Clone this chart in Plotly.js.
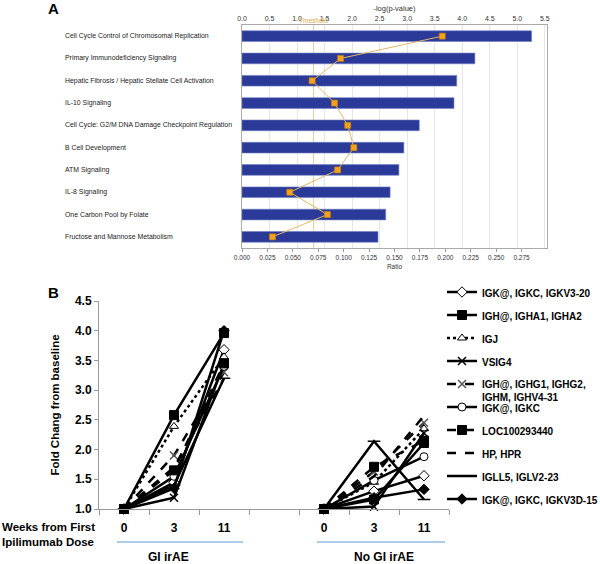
<!DOCTYPE html>
<html>
<head>
<meta charset="utf-8">
<script src="https://cdn.plot.ly/plotly-3.0.1.min.js"></script>
<style>html,body{margin:0;padding:0;background:#fff;overflow:hidden;width:600px;height:564px;}#chart{width:600px;height:564px;}</style>
</head>
<body>
<div id="chart"></div>
<script>
// ---------- Panel A data ----------
const pathways = [
  'Cell Cycle Control of Chromosomal Replication',
  'Primary Immunodeficiency Signaling',
  'Hepatic Fibrosis / Hepatic Stellate Cell Activation',
  'IL-10 Signaling',
  'Cell Cycle: G2/M DNA Damage Checkpoint Regulation',
  'B Cell Development',
  'ATM Signaling',
  'IL-8 Signaling',
  'One Carbon Pool by Folate',
  'Fructose and Mannose Metabolism'
];
const negLogP = [5.26, 4.23, 3.90, 3.85, 3.22, 2.94, 2.85, 2.69, 2.61, 2.47];
const ratio = [0.197, 0.097, 0.069, 0.091, 0.104, 0.110, 0.094, 0.047, 0.084, 0.030];
const thresholdNegLogP = 1.3;
const negLogPTicks = [0, 0.5, 1, 1.5, 2, 2.5, 3, 3.5, 4, 4.5, 5, 5.5];
const ratioTicks = [0, 0.025, 0.05, 0.075, 0.1, 0.125, 0.15, 0.175, 0.2, 0.225, 0.25, 0.275];

// ---------- Panel B data ----------
const genes = [
  'IGK@, IGKC, IGKV3-20',
  'IGH@, IGHA1, IGHA2',
  'IGJ',
  'VSIG4',
  'IGH@, IGHG1, IGHG2,<br>IGHM, IGHV4-31',
  'IGK@, IGKC',
  'LOC100293440',
  'HP, HPR',
  'IGLL5, IGLV2-23',
  'IGK@, IGKC, IGKV3D-15'
];
const weekLabels = ['0', '3', '11'];
const groupLabels = ['GI irAE', 'No GI irAE'];
const giWeek0    = [1, 1, 1, 1, 1, 1, 1, 1, 1, 1];
const giWeek3    = [1.45, 2.58, 2.39, 1.19, 1.90, 1.55, 1.65, 1.70, 1.40, 1.35];
const giWeek11   = [3.68, 3.96, 3.56, 3.45, 3.30, 3.40, 3.45, 3.20, 3.20, 4.00];
const noGiWeek0  = [1, 1, 1, 1, 1, 1, 1, 1, 1, 1];
const noGiWeek3  = [1.30, 1.16, 1.45, 1.04, 1.63, 1.48, 1.71, 1.55, 2.14, 1.19];
const noGiWeek11 = [1.56, 2.11, 2.35, 2.28, 2.45, 1.88, 2.15, 2.57, 1.16, 1.33];
const yTicksB = [1, 1.5, 2, 2.5, 3, 3.5, 4, 4.5];

// ---------- styles ----------
const dashes  = ['solid', 'solid', 'dot', 'solid', 'dash', 'solid', 'dash', 'dash', 'solid', 'solid'];
const symbols = ['diamond', 'square', 'triangle-up', 'x-thin-open', 'x-thin-open', 'circle', 'square', 'circle', 'line-ew-open', 'diamond'];
const mFill   = ['white', 'black', 'white', 'black', '#555', 'white', 'black', 'black', 'black', 'black'];
const mSize   = [8, 9, 8, 8, 8, 8, 9, 0, 9, 8];
const modes   = ['lines+markers','lines+markers','lines+markers','lines+markers','lines+markers','lines+markers','lines+markers','lines','lines+markers','lines+markers'];

const fontA = 'Liberation Sans, Arial, sans-serif';
const fontB = 'Liberation Sans, Arial, sans-serif';

const traces = [];
traces.push({
  type: 'bar', orientation: 'h', x: negLogP, y: pathways.map((p, i) => i),
  xaxis: 'x', yaxis: 'y', width: 0.48,
  marker: {color: '#2b3a98', line: {color: '#6f7fc4', width: 0.6}},
  showlegend: false, hoverinfo: 'skip'
});
traces.push({
  type: 'scatter', mode: 'lines+markers', x: ratio, y: pathways.map((p, i) => i),
  xaxis: 'x3', yaxis: 'y', cliponaxis: false,
  line: {color: '#e3b868', width: 1},
  marker: {symbol: 'square', size: 6, color: '#f4a11c', line: {color: '#c98210', width: 0.6}},
  showlegend: false, hoverinfo: 'skip'
});

const groupOffset = 4;
function xPos(groupIdx) {
  return weekLabels.map((w, k) => groupIdx * groupOffset + k + 0.5);
}
genes.forEach((g, i) => {
  const xs = xPos(0).concat([null], xPos(1));
  const ys = [giWeek0[i], giWeek3[i], giWeek11[i], null, noGiWeek0[i], noGiWeek3[i], noGiWeek11[i]];
  const isOpenSym = symbols[i].indexOf('open') >= 0;
  traces.push({
    type: 'scatter', mode: modes[i], name: g, x: xs, y: ys,
    xaxis: 'x2', yaxis: 'y2', connectgaps: false, cliponaxis: false,
    legend: i < 5 ? 'legend' : 'legend2', legendgroup: 'g' + i,
    line: {color: 'black', width: 2.5, dash: dashes[i]},
    marker: {
      symbol: symbols[i], size: mSize[i], color: mFill[i],
      line: {color: isOpenSym ? mFill[i] : 'black', width: isOpenSym ? 1.5 : 1}
    },
    hoverinfo: 'skip'
  });
});

const annotations = [];
pathways.forEach((p, i) => {
  annotations.push({xref: 'paper', yref: 'y', x: 63 / 600, y: i, xanchor: 'left', yanchor: 'middle',
    text: p, showarrow: false, font: {family: fontA, size: 6.9, color: '#222'}});
});
annotations.push({xref: 'x', yref: 'paper', x: thresholdNegLogP, y: 1 - 20 / 564, xanchor: 'center', yanchor: 'middle',
  text: 'Threshold', showarrow: false, font: {family: fontA, size: 6.5, color: '#d9aa4a'}});
annotations.push({xref: 'paper', yref: 'paper', x: 53 / 600, y: 1 - 9 / 564, xanchor: 'center', yanchor: 'middle',
  text: 'A', showarrow: false, font: {family: fontB, size: 15, color: 'black', weight: 'bold'}});
annotations.push({xref: 'paper', yref: 'paper', x: 53 / 600, y: 1 - 292 / 564, xanchor: 'center', yanchor: 'middle',
  text: 'B', showarrow: false, font: {family: fontB, size: 15, color: 'black', weight: 'bold'}});
annotations.push({xref: 'paper', yref: 'paper', x: 0, y: 1 - 534 / 564, xanchor: 'left', yanchor: 'middle', align: 'left',
  text: 'Weeks from First<br>Ipilimumab Dose', showarrow: false, font: {family: fontB, size: 11.5, color: 'black', weight: 'bold'}});
annotations.push({xref: 'paper', yref: 'paper', x: 168 / 600, y: 1 - 557 / 564, xanchor: 'center', yanchor: 'middle',
  text: groupLabels[0], showarrow: false, font: {family: fontB, size: 12, color: 'black', weight: 'bold'}});
annotations.push({xref: 'paper', yref: 'paper', x: 384 / 600, y: 1 - 557 / 564, xanchor: 'center', yanchor: 'middle',
  text: groupLabels[1], showarrow: false, font: {family: fontB, size: 12, color: 'black', weight: 'bold'}});

const shapes = [
  {type: 'line', xref: 'x', yref: 'paper', x0: thresholdNegLogP, x1: thresholdNegLogP, y0: 1 - 248 / 564, y1: 1 - 25 / 564,
   line: {color: '#e2cf9a', width: 1}, layer: 'below'},
  {type: 'line', xref: 'paper', yref: 'paper', x0: 117 / 600, x1: 243 / 600, y0: 1 - 542 / 564, y1: 1 - 542 / 564,
   line: {color: '#5b9bd5', width: 1.2}},
  {type: 'line', xref: 'paper', yref: 'paper', x0: 317 / 600, x1: 445 / 600, y0: 1 - 542 / 564, y1: 1 - 542 / 564,
   line: {color: '#5b9bd5', width: 1.2}}
];

const layout = {
  width: 600, height: 564, autosize: false,
  margin: {l: 0, r: 0, t: 0, b: 0, pad: 0, autoexpand: false},
  paper_bgcolor: 'white', plot_bgcolor: 'rgba(0,0,0,0)',
  showlegend: true,
  font: {family: fontB, color: 'black'},
  xaxis: {
    domain: [242 / 600, 547 / 600], anchor: 'y', side: 'top', range: [0, 5.54],
    tickvals: negLogPTicks, tickformat: '.1f', ticks: '',
    tickfont: {family: fontA, size: 7, color: '#333'},
    showline: true, linecolor: '#aaa', linewidth: 1, showgrid: true, gridcolor: '#e6e6e6', zeroline: false,
    title: {text: '-log(p-value)', font: {family: fontA, size: 7.5, color: '#333'}, standoff: 2}
  },
  xaxis3: {
    overlaying: 'x', anchor: 'y', side: 'bottom', range: [0, 0.3],
    tickvals: ratioTicks, tickformat: '.3f', ticks: 'outside', ticklen: 3, tickcolor: '#999',
    tickfont: {family: fontA, size: 6.5, color: '#333'},
    showline: true, linecolor: '#aaa', linewidth: 1, showgrid: false, zeroline: false,
    title: {text: 'Ratio', font: {family: fontA, size: 6.5, color: '#333'}, standoff: 4}
  },
  yaxis: {
    domain: [1 - 248 / 564, 1 - 25 / 564], anchor: 'x', range: [9.5, -0.5],
    showticklabels: false, ticks: '', showgrid: false, zeroline: false,
    showline: true, mirror: true, linecolor: '#aaa', linewidth: 1
  },
  xaxis2: {
    domain: [99 / 600, 449 / 600], anchor: 'y2', range: [0, 7],
    tickvals: xPos(0).concat(xPos(1)), ticktext: weekLabels.concat(weekLabels), ticks: '',
    tickfont: {family: fontB, size: 12, color: 'black', weight: 'bold'}, ticklabelstandoff: 8,
    minor: {tickvals: [0, 1, 2, 3, 4, 5, 6, 7], ticks: 'outside', ticklen: 5, tickcolor: '#999', showgrid: false},
    showline: true, linecolor: '#999', linewidth: 1, showgrid: false, zeroline: false
  },
  yaxis2: {
    domain: [1 - 509 / 564, 1 - 301 / 564], anchor: 'x2', range: [1, 4.5],
    tickvals: yTicksB, tickformat: '.1f', ticks: 'outside', ticklen: 4, tickcolor: '#999',
    tickfont: {family: fontB, size: 12, color: 'black', weight: 'bold'},
    showline: true, linecolor: '#999', linewidth: 1, showgrid: false, zeroline: false,
    title: {text: 'Fold Chang from baseline', font: {family: fontB, size: 11.5, color: 'black', weight: 'bold'}, standoff: 12}
  },
  legend: {
    x: 442 / 600, y: 1 - 279 / 564, xanchor: 'left', yanchor: 'top',
    bgcolor: 'rgba(0,0,0,0)', borderwidth: 0, tracegroupgap: 4, valign: 'top',
    font: {family: fontB, size: 10, color: 'black', weight: 'bold'}
  },
  legend2: {
    x: 442 / 600, y: 1 - 394 / 564, xanchor: 'left', yanchor: 'top',
    bgcolor: 'rgba(0,0,0,0)', borderwidth: 0, tracegroupgap: 4, valign: 'top',
    font: {family: fontB, size: 10, color: 'black', weight: 'bold'}
  },
  annotations: annotations,
  shapes: shapes
};

Plotly.newPlot('chart', traces, layout, {staticPlot: true, displayModeBar: false});
</script>
</body>
</html>
